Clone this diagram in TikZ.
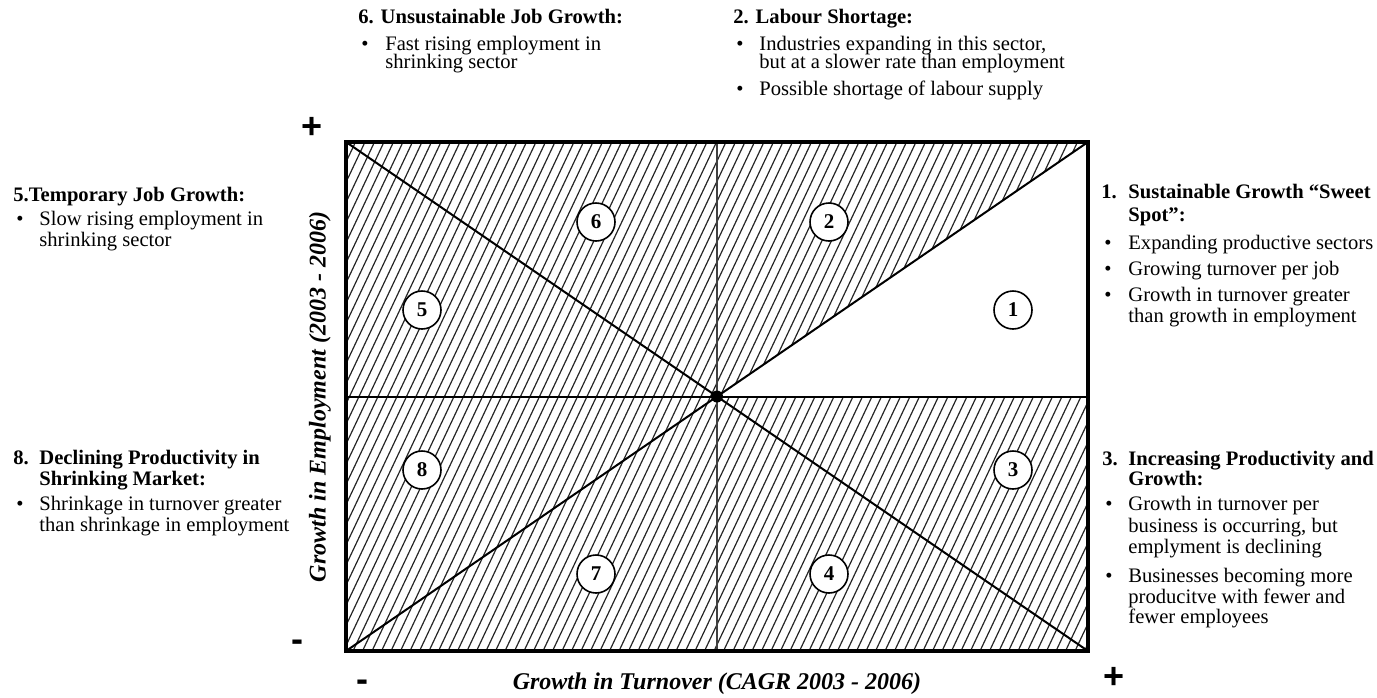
\documentclass[tikz,border=0pt]{standalone}
\usepackage{fontspec}
\setmainfont{Liberation Serif}
\newfontfamily\signfont{Liberation Sans}
\usepackage{tikz}
\usetikzlibrary{positioning}
\newcommand{\bulmark}{\hspace{1.5pt}\textbullet}

\begin{document}
\begin{tikzpicture}[x=0.5pt,y=-0.5pt,
  blk/.style={anchor=base west,inner sep=0pt,font=\fontsize{10.3}{10.5}\selectfont},
  zone/.style={circle,draw,line width=0.8pt,fill=white,minimum size=19pt,inner sep=0pt,
    font=\bfseries\fontsize{10.5}{10.5}\selectfont},
  axislab/.style={inner sep=0pt,font=\bfseries\itshape\fontsize{12}{12}\selectfont},
  sign/.style={inner sep=0pt,font=\signfont\bfseries\fontsize{18}{18}\selectfont},
  hatch/.style={line width=0.6pt,black!85},
  part/.style={line width=1pt}]
  \useasboundingbox (0,0) rectangle (1377,697);
  \coordinate (nw) at (346,142);
  \coordinate (ne) at (1088,142);
  \coordinate (se) at (1088,651);
  \coordinate (sw) at (346,651);
  \coordinate (o) at (717,396.5);
  \coordinate (n) at (717,142);
  \coordinate (s) at (717,651);
  \coordinate (w) at (346,396.5);
  \coordinate (e) at (1088,396.5);
  \begin{scope}
    \clip (nw) -- (ne) -- (o) -- (e) -- (se) -- (sw) -- cycle;
    \foreach \x in {106,115.5,...,1090}
      {\draw[hatch] (\x,651) -- ++(240,-509);}
  \end{scope}
  \draw[part] (nw) -- (se);
  \draw[part] (sw) -- (ne);
  \draw[part] (w) -- (e);
  \draw[part,black!75] (n) -- (s);
  \fill (o) circle (3pt);
  \draw[line width=1.6pt] (nw) rectangle (se);
  \foreach \name/\lab/\px/\py in {z6/6/596/222,z2/2/829/222,z5/5/422/310,z1/1/1013/310,
      z8/8/422/470,z3/3/1013/470,z7/7/596/574,z4/4/829/574}
    {\node[zone] (\name) at (\px,\py) {\lab};}
  \node[sign] (plusy) at (312,128) {+};
  \node[sign] (minusy) at (297,646) {-};
  \node[sign] (minusx) at (362,686) {-};
  \node[sign] (plusx) at (1114,678) {+};
  \node[axislab,rotate=90] (ylab) at (320,397) {Growth in Employment (2003 - 2006)};
  \node[axislab] (xlab) at (717,684) {Growth in Turnover (CAGR 2003 - 2006)};
  \node[blk] (t6) at (358,23) {\begin{tabular}[t]{@{}p{13.5pt}@{}l@{}}
    \multicolumn{2}{@{}l@{}}{\bfseries 6. Unsustainable Job Growth:}\\[3pt]
    \bulmark & Fast rising employment in\\[-1.5pt]
    & shrinking sector
    \end{tabular}};
  \node[blk] (t2) at (733,23) {\begin{tabular}[t]{@{}p{13pt}@{}l@{}}
    \multicolumn{2}{@{}l@{}}{\bfseries 2. Labour Shortage:}\\[3pt]
    \bulmark & Industries expanding in this sector,\\[-1.5pt]
    & but at a slower rate than employment\\[3pt]
    \bulmark & Possible shortage of labour supply
    \end{tabular}};
  \node[blk] (t5) at (13,201) {\begin{tabular}[t]{@{}p{13pt}@{}l@{}}
    \multicolumn{2}{@{}l@{}}{\bfseries 5.Temporary Job Growth:}\\[1.5pt]
    \bulmark & Slow rising employment in\\
    & shrinking sector
    \end{tabular}};
  \node[blk] (t8) at (13,464) {\begin{tabular}[t]{@{}p{13pt}@{}l@{}}
    \textbf{8.} & \textbf{Declining Productivity in}\\
    & \textbf{Shrinking Market:}\\[2pt]
    \bulmark & Shrinkage in turnover greater\\
    & than shrinkage in employment
    \end{tabular}};
  \node[blk] (t1) at (1101,198) {\begin{tabular}[t]{@{}p{13.5pt}@{}l@{}}
    \textbf{1.} & \textbf{Sustainable Growth “Sweet}\\[1pt]
    & \textbf{Spot”:}\\[3.5pt]
    \bulmark & Expanding productive sectors\\[2.5pt]
    \bulmark & Growing turnover per job\\[2.5pt]
    \bulmark & Growth in turnover greater\\
    & than growth in employment
    \end{tabular}};
  \node[blk] (t3) at (1102,465) {\begin{tabular}[t]{@{}p{13pt}@{}l@{}}
    \textbf{3.} & \textbf{Increasing Productivity and}\\[-0.5pt]
    & \textbf{Growth:}\\[2pt]
    \bulmark & Growth in turnover per\\[0.5pt]
    & business is occurring, but\\
    & emplyment is declining\\[4pt]
    \bulmark & Businesses becoming more\\
    & producitve with fewer and\\[-0.5pt]
    & fewer employees
    \end{tabular}};
\end{tikzpicture}
\end{document}
